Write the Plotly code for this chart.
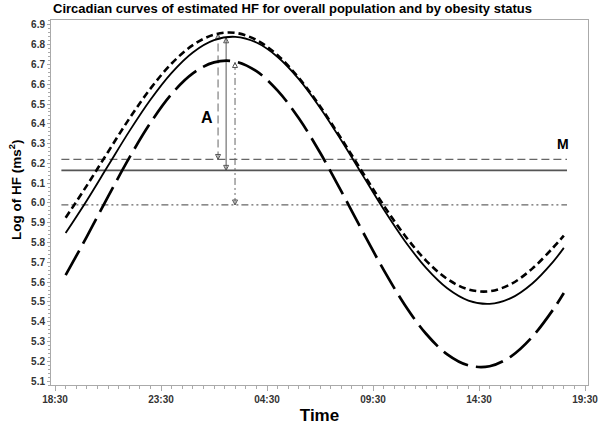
import plotly.graph_objects as go

# ---- data ----
hours = [19, 20, 21, 22, 23, 24, 25, 26, 27, 28, 29, 30, 31, 32, 33, 34, 35,
         36, 37, 38, 39, 40, 41, 42, 42.5]
overall = [5.848, 6.013, 6.188, 6.362, 6.522, 6.658, 6.761, 6.823, 6.840, 6.811,
           6.738, 6.626, 6.482, 6.317, 6.142, 5.968, 5.808, 5.672, 5.569, 5.507,
           5.490, 5.519, 5.592, 5.704, 5.773]
non_obese = [5.925, 6.088, 6.258, 6.426, 6.578, 6.705, 6.798, 6.851, 6.860, 6.824,
             6.747, 6.632, 6.489, 6.326, 6.156, 5.988, 5.836, 5.709, 5.616, 5.563,
             5.554, 5.590, 5.667, 5.775, 5.835]
obese = [5.635, 5.830, 6.032, 6.228, 6.405, 6.551, 6.655, 6.711, 6.715, 6.666,
         6.568, 6.428, 6.255, 6.060, 5.858, 5.662, 5.485, 5.339, 5.235, 5.179,
         5.175, 5.224, 5.322, 5.462, 5.545]

mesors = {"non_obese": 6.22, "overall": 6.165, "obese": 5.99}
peaks = {"non_obese": 6.855, "overall": 6.835, "obese": 6.71}
arrow_x = {"non_obese": 26.19, "overall": 26.57, "obese": 26.99}
mesor_span = [18.8, 42.65]

tick_vals = [18.5, 23.5, 28.5, 33.5, 38.5, 43.5]
tick_text = ["18:30", "23:30", "04:30", "09:30", "14:30", "19:30"]

title = "Circadian curves of estimated HF for overall population and by obesity status"

FONT = "Arial, Liberation Sans, sans-serif"

fig = go.Figure()

# mesor lines
mesor_styles = {
    "non_obese": dict(color="#666666", width=1.2, dash="8px,4px"),
    "overall": dict(color="#555555", width=1.6, dash="solid"),
    "obese": dict(color="#666666", width=1.2, dash="7px,3px,2px,3px,2px,3px"),
}
for k in ["non_obese", "overall", "obese"]:
    fig.add_trace(go.Scatter(x=mesor_span, y=[mesors[k], mesors[k]], mode="lines",
                             line=mesor_styles[k], showlegend=False, hoverinfo="skip"))

# amplitude shafts with arrowheads at both ends
for k in ["non_obese", "overall", "obese"]:
    st = dict(mesor_styles[k])
    st["width"] = 1
    fig.add_trace(go.Scatter(x=[arrow_x[k], arrow_x[k]], y=[mesors[k], peaks[k]],
                             mode="lines", line=st, showlegend=False, hoverinfo="skip"))
    fig.add_trace(go.Scatter(x=[arrow_x[k], arrow_x[k]], y=[mesors[k], peaks[k]],
                             mode="markers", showlegend=False, hoverinfo="skip",
                             marker=dict(symbol=["arrow-down-open", "arrow-up-open"], size=5,
                                         color="#555555", line=dict(width=1, color="#555555"))))

# curves
fig.add_trace(go.Scatter(x=hours, y=non_obese, mode="lines", line_shape="spline",
                         line=dict(color="black", width=2.6, dash="7px,4px"), showlegend=False))
fig.add_trace(go.Scatter(x=hours, y=overall, mode="lines", line_shape="spline",
                         line=dict(color="black", width=1.8), showlegend=False))
fig.add_trace(go.Scatter(x=hours, y=obese, mode="lines", line_shape="spline",
                         line=dict(color="black", width=2.7, dash="28px,8px"), showlegend=False))

annotations = [
    dict(x=25.67, y=6.43, xref="x", yref="y", text="<b>A</b>", showarrow=False,
         font=dict(family=FONT, size=16, color="black")),
    dict(x=42.46, y=6.30, xref="x", yref="y", text="<b>M</b>", showarrow=False,
         font=dict(family=FONT, size=14, color="black")),
    dict(x=(15 - 51) / 537, y=(385 - 190) / 365, xref="paper", yref="paper",
         text="<b>Log of HF (ms<sup>2</sup>)</b>", textangle=-90, showarrow=False,
         xanchor="center", yanchor="middle",
         font=dict(family=FONT, size=13.5, color="black")),
]

fig.update_layout(
    width=600, height=425,
    margin=dict(l=51, r=12, t=20, b=40, autoexpand=False),
    paper_bgcolor="white", plot_bgcolor="white",
    title=dict(text="<b>" + title + "</b>", x=53 / 600, xanchor="left", xref="container",
               y=1 - 8 / 425, yanchor="middle", yref="container", automargin=False,
               font=dict(family=FONT, size=13, color="black")),
    annotations=annotations,
    xaxis=dict(range=[18.31, 43.64], tickmode="array", tickvals=tick_vals, ticktext=tick_text,
               automargin=False,
               showgrid=False, zeroline=False, showline=True, linecolor="#aaaaaa", linewidth=1,
               mirror=True, ticks="outside", ticklen=5, tickcolor="#aaaaaa",
               minor=dict(tickmode="linear", tick0=18.5, dtick=0.5, ticks="outside",
                          ticklen=3, tickcolor="#aaaaaa"),
               tickfont=dict(family=FONT, size=10, color="#333333", weight="bold"),
               title=dict(text="<b>Time</b>", standoff=7,
                          font=dict(family=FONT, size=17, color="black"))),
    yaxis=dict(range=[5.08, 6.925], tickmode="linear", tick0=5.1, dtick=0.1, tickformat=".1f",
               automargin=False,
               showgrid=False, zeroline=False, showline=True, linecolor="#aaaaaa", linewidth=1,
               mirror=True, ticks="outside", ticklen=3, tickcolor="#aaaaaa",
               minor=dict(tickmode="linear", tick0=5.1, dtick=0.02, ticks="outside",
                          ticklen=2, tickcolor="#aaaaaa"),
               tickfont=dict(family=FONT, size=10, color="#333333", weight="bold")),
)

fig.write_html("out.html", config={"displayModeBar": False},
               post_script="document.body.style.margin='0';")
